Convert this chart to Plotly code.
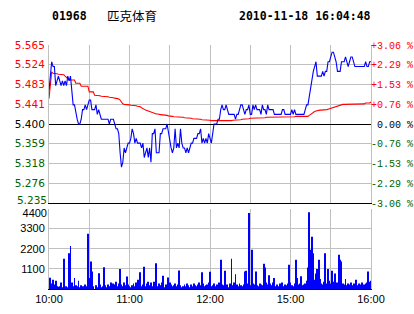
import plotly.graph_objects as go

stock_code = "01968"
stock_name = "匹克体育"
stamp = "2010-11-18 16:04:48"
prev_close = 5.40

price_ticks = [5.235, 5.276, 5.318, 5.359, 5.400, 5.441, 5.483, 5.524, 5.565]
pct_ticks = [-3.06, -2.29, -1.53, -0.76, 0.00, 0.76, 1.53, 2.29, 3.06]
vol_ticks = [1100, 2200, 3300, 4400]
time_ticks = ["10:00", "10:30", "11:00", "11:30", "12:00", "12:30", "15:00", "15:30", "16:00"]
time_labels = ["10:00", "", "11:00", "", "12:00", "", "15:00", "", "16:00"]

# minute categories: 10:00-12:30, 14:31-16:00
times = []
for m in range(10 * 60, 12 * 60 + 31):
    times.append(f"{m // 60:02d}:{m % 60:02d}")
for m in range(14 * 60 + 31, 16 * 60 + 1):
    times.append(f"{m // 60:02d}:{m % 60:02d}")

price = [
    5.47, 5.50, 5.53, 5.52, 5.52, 5.48, 5.49, 5.50, 5.49, 5.48,
    5.49, 5.48, 5.49, 5.48, 5.50, 5.49, 5.50, 5.46, 5.44, 5.44,
    5.42, 5.41, 5.40, 5.40, 5.41, 5.43, 5.43, 5.44, 5.43, 5.44,
    5.45, 5.45, 5.43, 5.43, 5.43, 5.44, 5.42, 5.43, 5.42, 5.41,
    5.41, 5.41, 5.41, 5.41, 5.41, 5.40, 5.41, 5.41, 5.41, 5.40,
    5.39, 5.39, 5.38, 5.34, 5.31, 5.32, 5.35, 5.34, 5.35, 5.36,
    5.36, 5.37, 5.39, 5.38, 5.36, 5.37, 5.36, 5.36, 5.36, 5.35,
    5.36, 5.33, 5.34, 5.35, 5.33, 5.35, 5.32, 5.38, 5.38, 5.39,
    5.34, 5.34, 5.34, 5.38, 5.38, 5.39, 5.39, 5.39, 5.40, 5.38,
    5.36, 5.35, 5.34, 5.35, 5.39, 5.35, 5.36, 5.35, 5.39, 5.36,
    5.35, 5.35, 5.34, 5.35, 5.34, 5.35, 5.36, 5.36, 5.37, 5.37,
    5.37, 5.38, 5.38, 5.39, 5.36, 5.37, 5.36, 5.37, 5.36, 5.38,
    5.37, 5.36, 5.38, 5.40, 5.40, 5.40, 5.41, 5.41, 5.43, 5.44,
    5.43, 5.43, 5.44, 5.43, 5.42, 5.42, 5.42, 5.42, 5.42, 5.41,
    5.42, 5.42, 5.43, 5.44, 5.44, 5.43, 5.42, 5.43, 5.43, 5.44,
    5.42, 5.42, 5.44, 5.43, 5.44, 5.43, 5.43, 5.43, 5.42, 5.44,
    5.43, 5.43, 5.42, 5.44, 5.43, 5.43, 5.43, 5.43, 5.42, 5.42,
    5.42, 5.42, 5.42, 5.42, 5.43, 5.43, 5.42, 5.42, 5.42, 5.42,
    5.42, 5.43, 5.42, 5.43, 5.42, 5.42, 5.42, 5.42, 5.42, 5.42,
    5.42, 5.43, 5.44, 5.44, 5.46, 5.48, 5.50, 5.51, 5.52, 5.53,
    5.50, 5.50, 5.50, 5.50, 5.51, 5.50, 5.51, 5.51, 5.53, 5.53,
    5.54, 5.55, 5.55, 5.54, 5.53, 5.51, 5.51, 5.51, 5.53, 5.53,
    5.53, 5.54, 5.53, 5.52, 5.53, 5.54, 5.54, 5.53, 5.52, 5.52,
    5.52, 5.52, 5.52, 5.52, 5.52, 5.52, 5.53, 5.52, 5.52, 5.53,
    5.53,
]

avg_price = (
    [5.453, 5.490, 5.509, 5.506, 5.506, 5.505, 5.505, 5.504, 5.504, 5.503, 5.503]
    + [5.503, 5.500, 5.497, 5.494]
    + [5.492, 5.492, 5.492, 5.492, 5.492]
    + [5.485, 5.485, 5.485, 5.485]
    + [5.479, 5.479, 5.479, 5.479, 5.479, 5.479]
    + [5.467, 5.467, 5.467, 5.467]
    + [5.460, 5.460, 5.459, 5.459, 5.459, 5.458, 5.458, 5.458]
    + [5.458, 5.457, 5.457, 5.456, 5.456, 5.455, 5.455, 5.454, 5.454]
    + [5.453, 5.452, 5.450, 5.446]
    + [5.442, 5.441]
    + [5.441, 5.440, 5.440, 5.440, 5.439, 5.439, 5.438, 5.438, 5.438, 5.437]
    + [5.437, 5.436, 5.434, 5.432]
    + [5.430, 5.429, 5.428, 5.427]
    + [5.425, 5.424, 5.423, 5.422, 5.422]
    + [5.421, 5.421, 5.420, 5.420, 5.419, 5.419, 5.419]
    + [5.418, 5.418, 5.417, 5.417, 5.416, 5.416, 5.415, 5.415, 5.415, 5.414]
    + [5.414, 5.414, 5.414, 5.414, 5.413, 5.413, 5.413, 5.412, 5.412, 5.412]
    + [5.411, 5.411, 5.411, 5.411, 5.410, 5.410, 5.410, 5.409, 5.409, 5.409]
    + [5.408, 5.408, 5.408, 5.408, 5.407, 5.407, 5.407, 5.407]
    + [5.406, 5.406, 5.406, 5.406, 5.406, 5.406, 5.407, 5.407, 5.407, 5.407, 5.407, 5.407]
    + [5.408, 5.408, 5.408, 5.408, 5.409, 5.409, 5.409, 5.410, 5.410, 5.410, 5.411, 5.411, 5.411]
    + [5.412, 5.412, 5.412, 5.412, 5.412, 5.412, 5.413, 5.413, 5.413, 5.413, 5.413, 5.413]
    + [5.414] * 10 + [5.415] * 12 + [5.416] * 10
    + [5.418, 5.420, 5.423]
    + [5.425, 5.426]
    + [5.427, 5.428, 5.428, 5.429, 5.429, 5.429, 5.430, 5.430]
    + [5.430, 5.431, 5.432, 5.433, 5.434]
    + [5.434, 5.436, 5.437, 5.438, 5.439, 5.440, 5.440]
    + [5.441] * 10
    + [5.442] * 7
    + [5.444, 5.444, 5.444, 5.444, 5.446]
)

volume = [
    350, 620, 300, 500, 250, 450, 150, 120, 150, 350,
    100, 1650, 0, 150, 100, 1950, 2350, 350, 150, 600,
    200, 150, 450, 100, 200, 150, 100, 250, 150, 3020,
    600, 1500, 950, 150, 0, 200, 100, 860, 250, 100,
    150, 1190, 200, 100, 250, 150, 350, 200, 300, 250,
    400, 150, 300, 1100, 250, 150, 350, 200, 680, 250,
    150, 100, 200, 300, 150, 350, 500, 200, 920, 150,
    250, 1210, 150, 300, 400, 200, 350, 150, 400, 200,
    1410, 150, 300, 200, 350, 730, 100, 250, 150, 630,
    350, 250, 150, 200, 300, 150, 250, 1010, 200, 100,
    150, 250, 150, 300, 200, 100, 250, 150, 300, 200,
    150, 250, 350, 200, 920, 300, 150, 200, 250, 350,
    940, 150, 200, 300, 150, 250, 200, 350, 1600, 250,
    200, 1000, 150, 250, 100, 300, 1650, 200, 350, 800,
    250, 150, 300, 200, 150, 250, 950, 1000, 300, 4150,
    200, 2150, 300, 250, 950, 200, 150, 300, 250, 200,
    1380, 1180, 350, 250, 750, 300, 200, 350, 600, 150,
    250, 150, 300, 200, 350, 150, 250, 200, 300, 1320,
    350, 200, 150, 300, 1600, 600, 250, 300, 700, 200,
    250, 300, 450, 1180, 4200, 2150, 2850, 1950, 500, 850,
    1100, 1600, 550, 300, 250, 400, 1950, 300, 1100, 450,
    300, 1000, 400, 850, 300, 350, 1870, 1600, 1500, 300,
    250, 550, 200, 300, 250, 350, 200, 300, 250, 500,
    200, 300, 250, 350, 200, 250, 300, 350, 950, 400,
    450,
]

assert len(times) == 241 and len(price) == 241 and len(avg_price) == 241 and len(volume) == 241

RED = "#ff0000"
GREEN = "#006400"
BLUE = "#0000ff"
GRID = "#c0c0c0"


def colored(text, value, ref):
    if value > ref + 1e-9:
        c = RED
    elif value < ref - 1e-9:
        c = GREEN
    else:
        c = "#000000"
    return f'<span style="color:{c}">{text}</span>'


price_text = [colored(f"{v:.3f}", v, prev_close) for v in price_ticks]
pct_text = []
for v in pct_ticks:
    if v > 0:
        s = f"+{v:.2f} %"
    elif v < 0:
        s = f"-{abs(v):.2f} %"
    else:
        s = f"\u00a0{v:.2f} %"
    pct_text.append(colored(s, v, 0.0))
pct_series = [(p / prev_close - 1) * 100 for p in price]

INVIS = dict(color="rgba(0,0,0,0)", width=0)

fig = go.Figure()
fig.add_trace(go.Bar(x=times, y=volume, xaxis="x", yaxis="y2",
                     marker=dict(color=BLUE, line=dict(width=0)), hoverinfo="skip"))
fig.add_trace(go.Scatter(x=times, y=avg_price, xaxis="x2", yaxis="y", mode="lines",
                         line=dict(color=RED, width=1.1), hoverinfo="skip"))
fig.add_trace(go.Scatter(x=times, y=price, xaxis="x2", yaxis="y", mode="lines",
                         line=dict(color=BLUE, width=1.1), hoverinfo="skip"))
# carriers for the extra label axes (invisible)
fig.add_trace(go.Scatter(x=times, y=pct_series, xaxis="x2", yaxis="y3", mode="lines",
                         line=INVIS, hoverinfo="skip"))
fig.add_trace(go.Scatter(x=times, y=volume, xaxis="x", yaxis="y4", mode="lines",
                         line=INVIS, hoverinfo="skip"))
fig.add_trace(go.Scatter(x=times, y=price, xaxis="x2", yaxis="y5", mode="lines",
                         line=INVIS, hoverinfo="skip"))

W, H = 414, 314
ml, mr, mt, mb = 49, 43, 45, 25
pw, ph = W - ml - mr, H - mt - mb


def px_x(px):
    return (px - ml) / pw


def px_y(py):
    return (H - mb - py) / ph


common_x = dict(type="category", categoryorder="array", categoryarray=times,
                range=[0, 240], tickvals=time_ticks, ticktext=time_labels,
                showgrid=True, gridcolor=GRID, gridwidth=1, ticks="", zeroline=False,
                automargin=False)

price_dom = [px_y(203), 1]
vol_dom = [0, px_y(208.5)]
PFONT = dict(family="DejaVu Sans", size=10.5)
VFONT = dict(family="Liberation Sans", size=11, color="#000000")

fig.update_layout(
    width=W, height=H, margin=dict(l=ml, r=mr, t=mt, b=mb, autoexpand=False),
    paper_bgcolor="white", plot_bgcolor="white", showlegend=False, bargap=0.3,
    xaxis=dict(**common_x, anchor="y2", showline=True, linecolor="#000000", linewidth=1,
               tickfont=dict(family="Liberation Sans", size=11, color="#000000")),
    xaxis2=dict(**common_x, matches="x", anchor="y", showticklabels=False,
                showline=True, linecolor="#000000", linewidth=1),
    yaxis=dict(domain=price_dom, range=[price_ticks[0], price_ticks[-1]],
               tickvals=price_ticks[1:], ticktext=price_text[1:], showgrid=True, gridcolor=GRID,
               zeroline=False, showline=True, linecolor=GRID, mirror=True, ticks="",
               ticklabelstandoff=1, anchor="x2", automargin=False, tickfont=PFONT),
    yaxis5=dict(overlaying="y", side="left", anchor="x2",
                range=[price_ticks[0], price_ticks[-1]],
                tickvals=price_ticks[:1], ticktext=price_text[:1], showgrid=False,
                zeroline=False, showline=False, ticks="", ticklabelstandoff=1,
                ticklabelshift=-3, automargin=False, tickfont=PFONT),
    yaxis2=dict(domain=vol_dom, range=[0, 4400], tickvals=vol_ticks[:-1],
                ticktext=[str(v) for v in vol_ticks[:-1]], showgrid=True, gridcolor=GRID,
                zeroline=False, showline=True, linecolor=GRID, mirror=True, ticks="",
                ticklabelstandoff=1, anchor="x", automargin=False, tickfont=VFONT),
    yaxis4=dict(overlaying="y2", side="left", anchor="x", range=[0, 4400],
                tickvals=vol_ticks[-1:], ticktext=[str(v) for v in vol_ticks[-1:]],
                showgrid=False, zeroline=False, showline=False, ticks="",
                ticklabelstandoff=1, ticklabelshift=5, automargin=False, tickfont=VFONT),
    yaxis3=dict(overlaying="y", side="right", anchor="x2", range=[pct_ticks[0], pct_ticks[-1]],
                tickvals=pct_ticks, ticktext=pct_text, showgrid=False, zeroline=True,
                zerolinecolor="#000000", zerolinewidth=1, ticks="", ticklabelstandoff=-1,
                automargin=False, tickfont=dict(family="Liberation Mono", size=10)),
    annotations=[
        dict(text=f"<b>{stock_code}</b>", x=px_x(50), y=px_y(16), xref="paper", yref="paper",
             xanchor="left", yanchor="middle", showarrow=False,
             font=dict(family="DejaVu Sans Mono", size=11.5, color="#000000")),
        dict(text=stock_name, x=px_x(105), y=px_y(16), xref="paper", yref="paper",
             xanchor="left", yanchor="middle", showarrow=False,
             font=dict(family="Noto Sans CJK SC", size=12.5, color="#000000")),
        dict(text=f"<b>{stamp}</b>", x=px_x(237), y=px_y(16), xref="paper", yref="paper",
             xanchor="left", yanchor="middle", showarrow=False,
             font=dict(family="DejaVu Sans Mono", size=11.5, color="#000000")),
    ],
)

fig.write_html("out.html")
